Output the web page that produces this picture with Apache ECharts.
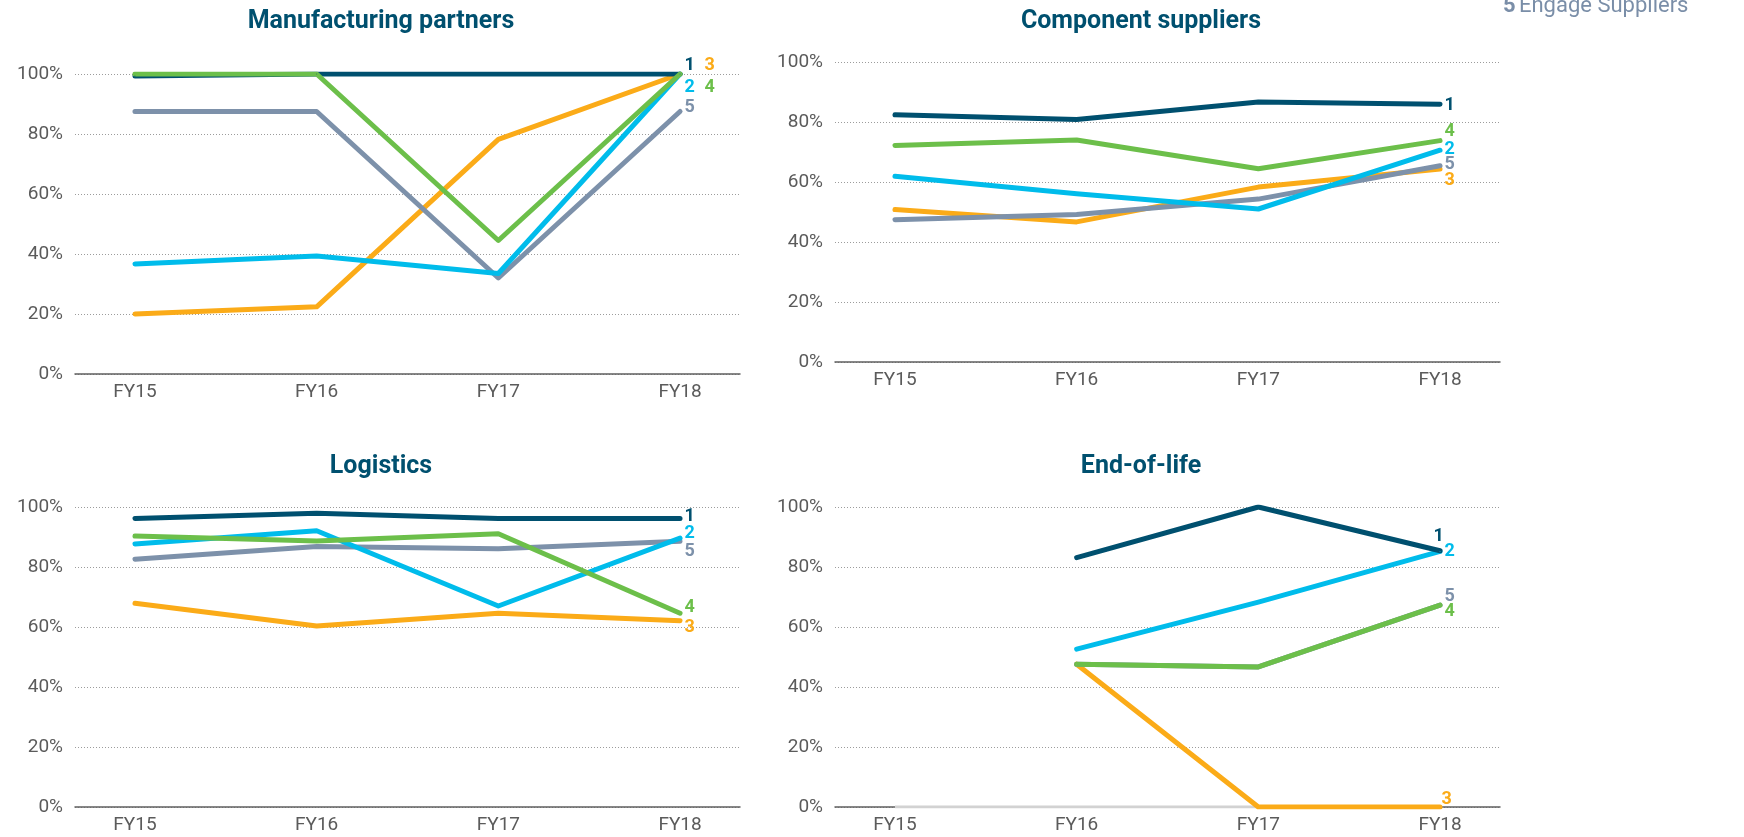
<!DOCTYPE html>
<html>
<head>
<meta charset="utf-8">
<title>Supplier engagement by category, FY15–FY18</title>
<script src="https://cdn.jsdelivr.net/npm/echarts@6/dist/echarts.min.js"></script>
<style>
  html, body { margin: 0; padding: 0; background: #ffffff; }
  #chart { width: 1744px; height: 837px; }
</style>
</head>
<body>
<div id="chart"></div>
<script>
// ---- data ---------------------------------------------------------------
const years = ['FY15', 'FY16', 'FY17', 'FY18'];
const panelTitles = ['Manufacturing partners', 'Component suppliers', 'Logistics', 'End-of-life'];
const lineKeys = ['1', '2', '3', '4', '5'];
const legendNumber = '5';
const legendText = 'Engage Suppliers';

// Manufacturing partners (%)
const mfg1 = [99.3, 100, 100, 100];
const mfg2 = [36.7, 39.3, 33.5, 100];
const mfg3 = [20.0, 22.4, 78.2, 100];
const mfg4 = [100, 100, 44.5, 100];
const mfg5 = [87.5, 87.5, 32.0, 87.5];

// Component suppliers (%)
const comp1 = [82.4, 80.8, 86.7, 85.9];
const comp2 = [61.9, 56.1, 51.0, 70.6];
const comp3 = [50.8, 46.7, 58.3, 64.3];
const comp4 = [72.2, 74.0, 64.4, 73.8];
const comp5 = [47.4, 49.2, 54.3, 65.4];

// Logistics (%)
const log1 = [96.2, 97.9, 96.2, 96.2];
const log2 = [87.7, 92.1, 67.0, 89.6];
const log3 = [67.9, 60.3, 64.6, 62.1];
const log4 = [90.3, 88.7, 91.1, 64.6];
const log5 = [82.6, 86.8, 86.1, 88.6];

// End-of-life (%), no FY15 survey
const eol1 = [null, 83.1, 100, 85.4];
const eol2 = [null, 52.6, 68.3, 85.2];
const eol3 = [null, 47.6, 0, 0];
const eol4 = [null, 47.6, 46.7, 67.3];
const eol5 = [null, 47.6, 46.7, 67.3];
const eolBase = [0, 0, 0, 0];

// ---- styling ------------------------------------------------------------
const FONT = 'Roboto, "Liberation Sans", Arial, sans-serif';
const colors = { '1': '#00506f', '2': '#00bceb', '3': '#fbab18', '4': '#6cbf4a', '5': '#7d91aa' };
const titleColor = '#00506f';
const axisTextColor = '#5b5b5b';

const panels = [
  { grid: { left: 75, top: 74, width: 665, height: 300 }, titleY: 22,
    lines: { '1': mfg1, '2': mfg2, '3': mfg3, '4': mfg4, '5': mfg5 },
    offsets: { '1': [0, -9], '2': [0, 13], '3': [20, -9], '4': [20, 13], '5': [0, -4] } },
  { grid: { left: 835, top: 62, width: 665, height: 300 }, titleY: 22,
    lines: { '1': comp1, '2': comp2, '3': comp3, '4': comp4, '5': comp5 },
    offsets: { '1': [0, 1], '2': [0, -1], '3': [0, 11], '4': [0, -9], '5': [0, -1] } },
  { grid: { left: 75, top: 507, width: 665, height: 300 }, titleY: 467,
    lines: { '1': log1, '2': log2, '3': log3, '4': log4, '5': log5 },
    offsets: { '1': [0, -2], '2': [0, -5], '3': [0, 7], '4': [0, -6], '5': [0, 10] } },
  { grid: { left: 835, top: 507, width: 665, height: 300 }, titleY: 467,
    lines: { '1': eol1, '2': eol2, '3': eol3, '4': eol4, '5': eol5 },
    offsets: { '1': [-11, -14], '2': [0, 0], '3': [-3, -8], '4': [0, 6], '5': [0, -9] },
    base: eolBase }
];

// stacking order, bottom to top
const drawOrder = ['3', '5', '2', '1', '4'];

function toPoints(values, key, offset) {
  const pts = [];
  let last = -1;
  values.forEach((v, i) => { if (v !== null) last = i; });
  values.forEach((v, i) => {
    if (v === null) return;
    if (i === last && key) {
      pts.push({
        value: [i, v],
        label: {
          show: true, position: 'right', distance: 4, offset: offset,
          formatter: key, color: colors[key], fontFamily: FONT,
          fontWeight: 'bold', fontSize: 18
        }
      });
    } else {
      pts.push([i, v]);
    }
  });
  return pts;
}

const series = [];
panels.forEach((p, gi) => {
  if (p.base) {
    series.push({
      type: 'line', name: 'base', xAxisIndex: gi, yAxisIndex: gi,
      data: toPoints(p.base, null), showSymbol: false, silent: true,
      lineStyle: { color: '#d2d2d2', width: 3 }, z: 1
    });
  }
  drawOrder.forEach(key => {
    series.push({
      type: 'line', name: key, xAxisIndex: gi, yAxisIndex: gi,
      data: toPoints(p.lines[key], key, p.offsets[key]),
      symbol: 'circle', symbolSize: 1, showSymbol: true, silent: true,
      itemStyle: { color: colors[key] },
      lineStyle: { color: colors[key], width: 5, cap: 'round', join: 'round' },
      emphasis: { disabled: true },
      z: 3
    });
  });
});

const chart = echarts.init(document.getElementById('chart'), null, { renderer: 'canvas' });

const option = {
  animation: false,
  backgroundColor: '#ffffff',
  textStyle: { fontFamily: FONT },
  grid: panels.map(p => Object.assign({ containLabel: false }, p.grid)),
  xAxis: panels.map((p, gi) => ({
    gridIndex: gi, type: 'value', min: -0.33, max: 3.33,
    axisLine: { show: true, onZero: false, lineStyle: { color: '#5f5f5f', width: 1.5 } },
    axisTick: { show: false },
    splitLine: { show: false },
    axisLabel: {
      customValues: [0, 1, 2, 3],
      formatter: v => years[Math.round(v)],
      margin: 9, color: axisTextColor, fontSize: 19, fontFamily: FONT
    }
  })),
  yAxis: panels.map((p, gi) => ({
    gridIndex: gi, type: 'value', min: 0, max: 100, interval: 20,
    axisLine: { show: false }, axisTick: { show: false },
    axisLabel: { formatter: '{value}%', margin: 12, color: axisTextColor, fontSize: 19, fontFamily: FONT },
    splitLine: { show: true, lineStyle: { color: '#9c9c9c', width: 1, type: [1, 2] } }
  })),
  graphic: [
    ...panels.map((p, gi) => ({
      type: 'text', silent: true,
      x: p.grid.left + 306, y: p.titleY,
      style: {
        text: panelTitles[gi], align: 'center', verticalAlign: 'middle',
        fill: titleColor, font: 'bold 25px ' + FONT
      }
    })),
    {
      type: 'text', silent: true, x: 1503, y: 6,
      style: {
        text: '{n|' + legendNumber + '} {t|' + legendText + '}',
        verticalAlign: 'middle', align: 'left',
        rich: {
          n: { fill: '#7a8ea8', fontWeight: 'bold', fontSize: 22, fontFamily: FONT },
          t: { fill: '#7a8ea8', fontSize: 22, fontFamily: FONT }
        }
      }
    }
  ],
  series: series
};

chart.setOption(option);
</script>
</body>
</html>
